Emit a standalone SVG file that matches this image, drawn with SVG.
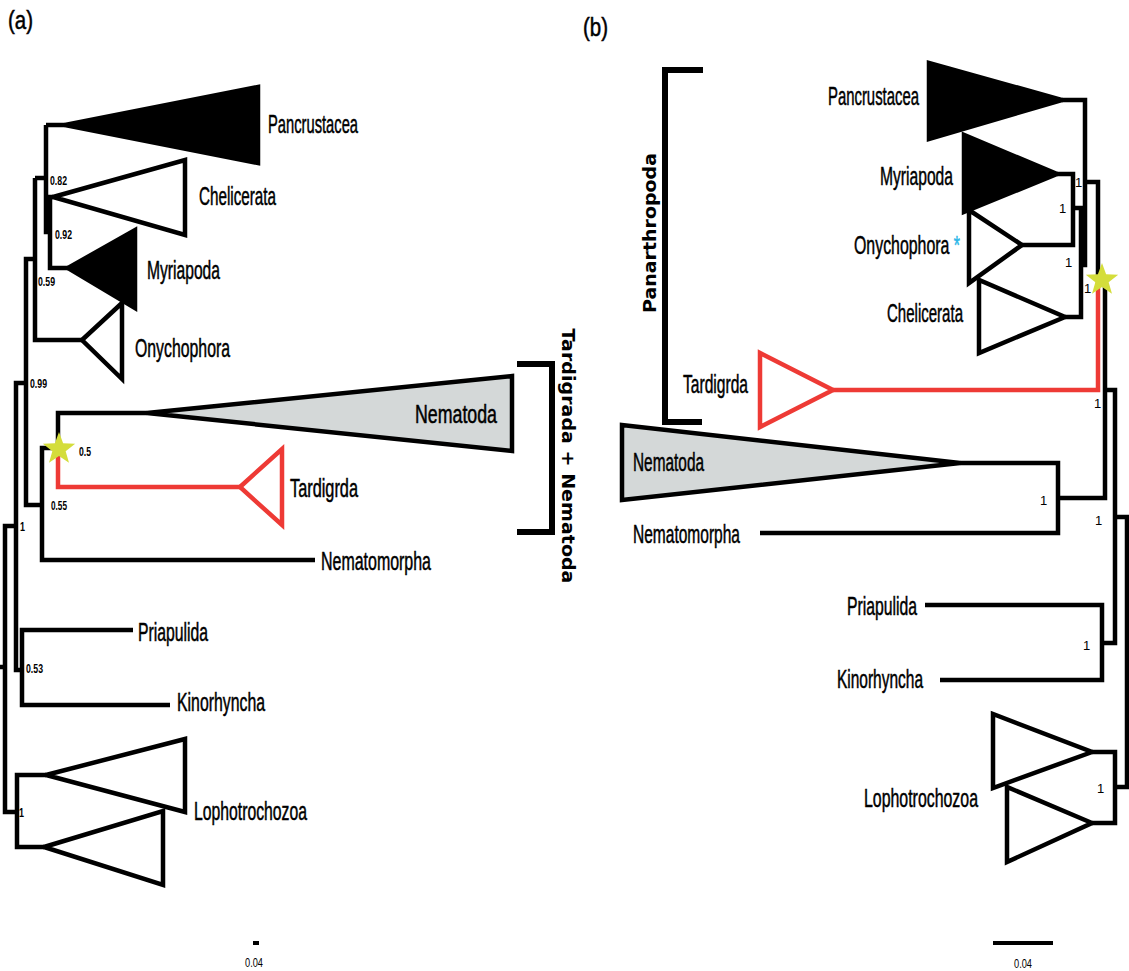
<svg xmlns="http://www.w3.org/2000/svg" xmlns:xlink="http://www.w3.org/1999/xlink" width="1129" height="971" viewBox="0 0 1129 971">
<style>
.ln{fill:none;stroke:#000;stroke-width:4.5;stroke-linejoin:miter}
.red{fill:none;stroke:#ee3a35;stroke-width:4.5}
.tri{stroke:#000;stroke-width:4.5;stroke-linejoin:miter}
.blk{fill:#000}
.wht{fill:#fff}
.gry{fill:#d4d8d8}
.rtri{fill:#fff;stroke:#ee3a35;stroke-width:4.5}
.lbl{font-family:"Liberation Sans",Arial,sans-serif;font-size:25px;fill:#000;stroke:#000;stroke-width:0.5}
.bs{font-family:"Liberation Sans",Arial,sans-serif;font-size:13px;fill:#000}
.bsa{font-family:"Liberation Sans",Arial,sans-serif;font-size:13px;font-weight:bold;fill:#000}
.brk{fill:none;stroke:#000;stroke-width:6}
.grp{font-family:"DejaVu Sans",Verdana,sans-serif;font-weight:bold;font-size:17px;fill:#000}
.star{fill:#d4dd3b}
.ast{fill:#29b6e8;stroke:#29b6e8}
</style>
<defs>
<polygon id="star" points="0,-17 4.11,-5.66 16.17,-5.25 6.66,2.16 9.99,13.75 0,7 -9.99,13.75 -6.66,2.16 -16.17,-5.25 -4.11,-5.66"/>
</defs>

<!-- panel labels -->
<text class="lbl" x="8" y="29" textLength="25" lengthAdjust="spacingAndGlyphs">(a)</text>
<text class="lbl" x="583" y="36" textLength="25" lengthAdjust="spacingAndGlyphs">(b)</text>

<!-- ===== Panel (a) connectors ===== -->
<g id="a-connectors">
<path class="ln" d="M46,125 H65"/>
<path class="ln" d="M50,232 H46 V125"/>
<path class="ln" d="M46,178 H35"/>
<path class="ln" d="M53,197 H50 V268 H68"/>
<path class="ln" d="M35,178 V340 H82"/>
<path class="ln" d="M35,259 H26 V505 H42"/>
<path class="ln" d="M26,383 H16 V670 H22"/>
<path class="ln" d="M58,448 H42 V560 H315"/>
<path class="ln" d="M58,449 V413 H147"/>
<path class="red" d="M58,449 V487 H240"/>
<path class="ln" d="M133,630 H22 V705 H170"/>
<path class="ln" d="M16,526 H5 V812 H17"/>
<path class="ln" d="M0,667 H5"/>
<path class="ln" d="M46,775 H17 V847 H44"/>
</g>

<!-- ===== Panel (a) nodes ===== -->
<g id="a-pancrustacea">
<polygon class="tri blk" points="65,125 258,87 258,163"/>
<text class="lbl" x="268" y="133" textLength="90" lengthAdjust="spacingAndGlyphs">Pancrustacea</text>
</g>
<g id="a-chelicerata">
<polygon class="tri wht" points="53,197 185,160 185,235"/>
<text class="lbl" x="199" y="205" textLength="77" lengthAdjust="spacingAndGlyphs">Chelicerata</text>
</g>
<g id="a-myriapoda">
<polygon class="tri blk" points="68,268 135,230 135,308"/>
<text class="lbl" x="147" y="279" textLength="73" lengthAdjust="spacingAndGlyphs">Myriapoda</text>
</g>
<g id="a-onychophora">
<polygon class="tri wht" points="82,340 122,303 122,379"/>
<text class="lbl" x="135" y="357" textLength="95" lengthAdjust="spacingAndGlyphs">Onychophora</text>
</g>
<g id="a-nematoda">
<polygon class="tri gry" points="147,413 512,376 512,451"/>
<text class="lbl" x="415" y="423" textLength="82" lengthAdjust="spacingAndGlyphs">Nematoda</text>
</g>
<g id="a-tardigrada">
<polygon class="rtri" points="240,487 282,449 282,525"/>
<text class="lbl" x="290" y="497" textLength="68" lengthAdjust="spacingAndGlyphs">Tardigrda</text>
</g>
<g id="a-nematomorpha">
<text class="lbl" x="321" y="570" textLength="110" lengthAdjust="spacingAndGlyphs">Nematomorpha</text>
</g>
<g id="a-priapulida">
<text class="lbl" x="138" y="641" textLength="70" lengthAdjust="spacingAndGlyphs">Priapulida</text>
</g>
<g id="a-kinorhyncha">
<text class="lbl" x="177" y="711" textLength="88" lengthAdjust="spacingAndGlyphs">Kinorhyncha</text>
</g>
<g id="a-lophotrochozoa">
<polygon class="tri wht" points="46,775 185,739 185,812"/>
<polygon class="tri wht" points="44,847 163,811 163,885"/>
<text class="lbl" x="194" y="820" textLength="113" lengthAdjust="spacingAndGlyphs">Lophotrochozoa</text>
</g>
<g id="a-star">
<use xlink:href="#star" href="#star" class="star" x="59" y="449"/>
</g>
<g id="a-support">
<text class="bsa" x="50" y="185" textLength="17" lengthAdjust="spacingAndGlyphs">0.82</text>
<text class="bsa" x="55" y="239" textLength="17" lengthAdjust="spacingAndGlyphs">0.92</text>
<text class="bsa" x="38" y="286" textLength="17" lengthAdjust="spacingAndGlyphs">0.59</text>
<text class="bsa" x="30" y="388" textLength="17" lengthAdjust="spacingAndGlyphs">0.99</text>
<text class="bsa" x="79" y="456" textLength="12" lengthAdjust="spacingAndGlyphs">0.5</text>
<text class="bsa" x="51" y="510" textLength="16" lengthAdjust="spacingAndGlyphs">0.55</text>
<text class="bsa" x="20" y="531" textLength="5" lengthAdjust="spacingAndGlyphs">1</text>
<text class="bsa" x="26" y="673" textLength="17" lengthAdjust="spacingAndGlyphs">0.53</text>
<text class="bsa" x="19" y="817" textLength="5" lengthAdjust="spacingAndGlyphs">1</text>
</g>
<g id="a-bracket">
<path class="brk" d="M517,364 H552 V532 H517"/>
<text class="grp" transform="translate(562,456) rotate(90)" text-anchor="middle" textLength="255" lengthAdjust="spacingAndGlyphs">Tardigrada + Nematoda</text>
</g>
<g id="a-scale">
<rect x="253" y="941" width="6" height="4" fill="#000"/>
<text class="bs" x="254" y="967" text-anchor="middle" font-size="12" textLength="18" lengthAdjust="spacingAndGlyphs">0.04</text>
</g>

<!-- ===== Panel (b) connectors ===== -->
<g id="b-connectors">
<path class="ln" d="M1062,100 H1085 V265 H1081"/>
<path class="ln" d="M1057,174 H1073 V245 H1022"/>
<path class="ln" d="M1073,208 H1081 V317 H1065"/>
<path class="ln" d="M1085,182 H1098 V280"/>
<path class="red" d="M1098,280 V390 H833"/>
<path class="ln" d="M1098,280 H1105 V498 H1058"/>
<path class="ln" d="M960,463 H1058 V533 H760"/>
<path class="ln" d="M1105,390 H1115 V643 H1102"/>
<path class="ln" d="M925,605 H1102 V680 H940"/>
<path class="ln" d="M1115,517 H1127 V787 H1115"/>
<path class="ln" d="M1092,752 H1115 V823 H1092"/>
</g>

<!-- ===== Panel (b) nodes ===== -->
<g id="b-pancrustacea">
<polygon class="tri blk" points="929,63 929,139 1062,100"/>
<text class="lbl" x="828" y="105" textLength="91" lengthAdjust="spacingAndGlyphs">Pancrustacea</text>
</g>
<g id="b-myriapoda">
<polygon class="tri blk" points="964,135 964,212 1057,174"/>
<text class="lbl" x="880" y="185" textLength="73" lengthAdjust="spacingAndGlyphs">Myriapoda</text>
</g>
<g id="b-onychophora">
<polygon class="tri wht" points="969,210 969,283 1022,245"/>
<text class="lbl" x="854" y="254" textLength="106" lengthAdjust="spacingAndGlyphs">Onychophora <tspan class="ast">*</tspan></text>
</g>
<g id="b-chelicerata">
<polygon class="tri wht" points="979,280 979,353 1065,317"/>
<text class="lbl" x="887" y="322" textLength="76" lengthAdjust="spacingAndGlyphs">Chelicerata</text>
</g>
<g id="b-tardigrada">
<polygon class="rtri" points="760,353 760,427 833,390"/>
<text class="lbl" x="683" y="393" textLength="65" lengthAdjust="spacingAndGlyphs">Tardigrda</text>
</g>
<g id="b-nematoda">
<polygon class="tri gry" points="622,425 622,500 960,463"/>
<text class="lbl" x="633" y="471" textLength="71" lengthAdjust="spacingAndGlyphs">Nematoda</text>
</g>
<g id="b-nematomorpha">
<text class="lbl" x="633" y="543" textLength="107" lengthAdjust="spacingAndGlyphs">Nematomorpha</text>
</g>
<g id="b-priapulida">
<text class="lbl" x="847" y="615" textLength="70" lengthAdjust="spacingAndGlyphs">Priapulida</text>
</g>
<g id="b-kinorhyncha">
<text class="lbl" x="837" y="688" textLength="86" lengthAdjust="spacingAndGlyphs">Kinorhyncha</text>
</g>
<g id="b-lophotrochozoa">
<polygon class="tri wht" points="993,714 993,788 1092,752"/>
<polygon class="tri wht" points="1007,787 1007,862 1092,823"/>
<text class="lbl" x="864" y="807" textLength="114" lengthAdjust="spacingAndGlyphs">Lophotrochozoa</text>
</g>
<g id="b-star">
<use xlink:href="#star" href="#star" class="star" x="1102" y="280"/>
</g>
<g id="b-support">
<text class="bs" x="1075" y="187">1</text>
<text class="bs" x="1059" y="213">1</text>
<text class="bs" x="1065" y="267">1</text>
<text class="bs" x="1084" y="293">1</text>
<text class="bs" x="1094" y="408">1</text>
<text class="bs" x="1040" y="505">1</text>
<text class="bs" x="1095" y="525">1</text>
<text class="bs" x="1083" y="650">1</text>
<text class="bs" x="1097" y="793">1</text>
</g>
<g id="b-bracket">
<path class="brk" d="M703,70 H665 V422 H702"/>
<text class="grp" transform="translate(656,233) rotate(-90)" text-anchor="middle" textLength="160" lengthAdjust="spacingAndGlyphs">Panarthropoda</text>
</g>
<g id="b-scale">
<rect x="993" y="941" width="60" height="4" fill="#000"/>
<text class="bs" x="1023" y="968" text-anchor="middle" font-size="12" textLength="18" lengthAdjust="spacingAndGlyphs">0.04</text>
</g>
</svg>
